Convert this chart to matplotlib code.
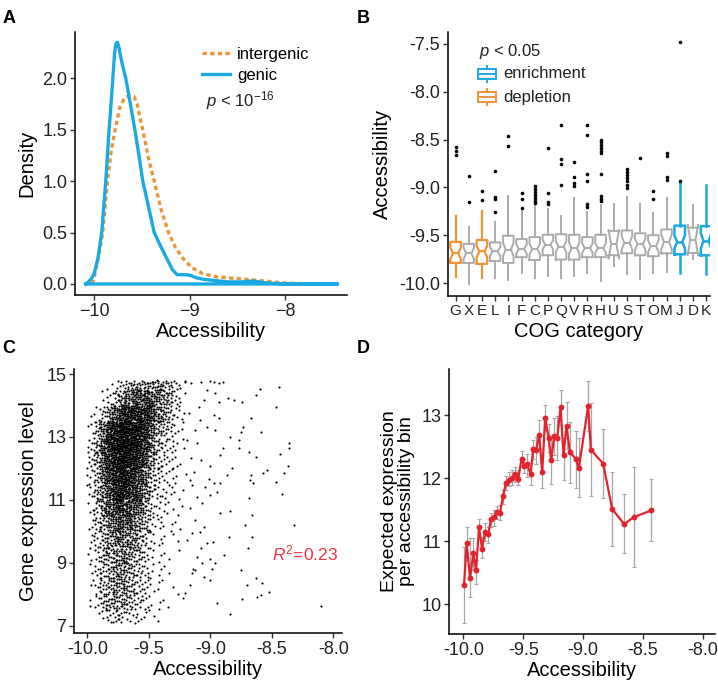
import numpy as np
import matplotlib
matplotlib.use('Agg')
from matplotlib import pyplot as plt
from matplotlib.patches import Rectangle
from matplotlib.lines import Line2D

plt.rcParams['font.family'] = ['Liberation Sans', 'DejaVu Sans']
plt.rcParams['mathtext.fontset'] = 'custom'
plt.rcParams['mathtext.rm'] = 'Liberation Sans'
plt.rcParams['mathtext.it'] = 'Liberation Sans:italic'

BLUE = '#1ba9e1'
ORANGE = '#ec9537'
GRAY = '#ababab'
RED = '#e2232c'

# --- A: density of accessibility
genic_x = [-10.087, -10.06, -10.03, -10.0, -9.96, -9.92, -9.878, -9.843, -9.815, -9.80,
           -9.785, -9.77, -9.755, -9.74, -9.72, -9.695, -9.668, -9.62, -9.573, -9.53,
           -9.49, -9.43, -9.37, -9.31, -9.24, -9.18, -9.13, -9.09, -9.03, -8.98,
           -8.93, -8.85, -8.75, -8.6, -8.45, -8.33, -8.25, -8.12, -7.95, -7.45]
genic_y = [0, 0.02, 0.05, 0.10, 0.25, 0.5, 1.0, 1.5, 1.85, 2.05,
           2.25, 2.34, 2.35, 2.30, 2.2, 2.1, 2.0, 1.75, 1.5, 1.25,
           1.0, 0.75, 0.5, 0.38, 0.25, 0.14, 0.09, 0.09, 0.09, 0.08,
           0.06, 0.045, 0.035, 0.02, 0.02, 0.03, 0.015, 0.006, 0.0, 0.0]
inter_x = [-10.02, -9.99, -9.95, -9.91, -9.86, -9.82, -9.78, -9.73, -9.68, -9.63,
           -9.58, -9.55, -9.52, -9.49, -9.43, -9.37, -9.30, -9.22, -9.15, -9.07,
           -8.98, -8.86, -8.72, -8.6, -8.47, -8.35, -8.23, -8.02, -7.8, -7.45]
inter_y = [0, 0.1, 0.28, 0.5, 1.0, 1.3, 1.5, 1.72, 1.81, 1.83,
           1.82, 1.75, 1.62, 1.5, 1.22, 1.0, 0.73, 0.5, 0.36, 0.25,
           0.16, 0.1, 0.07, 0.06, 0.05, 0.04, 0.03, 0.01, 0.003, 0.0]

# --- B: accessibility per COG category
cog = ['G', 'X', 'E', 'L', 'I', 'F', 'C', 'P', 'Q', 'V',
       'R', 'H', 'U', 'S', 'T', 'O', 'M', 'J', 'D', 'K']
cog_whislo = [-9.94, -10.01, -9.95, -9.95, -9.97, -9.90, -9.95, -9.93, -9.95, -9.93,
              -9.895, -9.98, -9.825, -9.91, -9.955, -9.90, -9.885, -9.895, -9.745, -9.91]
cog_q1 = [-9.79, -9.79, -9.80, -9.77, -9.79, -9.73, -9.76, -9.71, -9.755, -9.755,
          -9.73, -9.73, -9.71, -9.69, -9.71, -9.72, -9.69, -9.70, -9.685, -9.71]
cog_med = [-9.69, -9.69, -9.67, -9.67, -9.65, -9.645, -9.645, -9.60, -9.62, -9.635,
           -9.635, -9.635, -9.595, -9.58, -9.595, -9.615, -9.57, -9.57, -9.55, -9.56]
cog_q3 = [-9.57, -9.59, -9.55, -9.575, -9.505, -9.54, -9.52, -9.495, -9.49, -9.495,
          -9.52, -9.495, -9.455, -9.45, -9.48, -9.50, -9.44, -9.40, -9.42, -9.405]
cog_whishi = [-9.30, -9.41, -9.25, -9.36, -9.09, -9.25, -9.17, -9.23, -9.30, -9.11,
              -9.26, -9.18, -9.175, -9.10, -9.175, -9.265, -9.11, -8.95, -9.185, -8.975]
cog_notch = [0.06, 0.06, 0.06, 0.05, 0.07, 0.05, 0.06, 0.05, 0.06, 0.06,
             0.05, 0.05, 0.15, 0.07, 0.06, 0.06, 0.08, 0.07, 0.16, 0.08]
cog_fliers = [[-8.58, -8.62, -8.66], [-8.88, -9.15], [-9.04, -9.13],
              [-8.83, -9.10, -9.12, -9.26], [-8.46, -8.57], [-9.06, -9.12, -9.22],
              [-8.99, -9.02, -9.05, -9.08, -9.11, -9.14, -9.16],
              [-8.59, -9.06, -9.15, -9.17], [-8.35, -8.70, -8.76, -8.98],
              [-8.735, -8.89, -8.955, -8.99],
              [-8.345, -8.45, -8.86, -8.93, -9.17, -9.21],
              [-8.505, -8.53, -8.56, -8.59, -8.62, -8.645, -8.86, -9.09, -9.12, -9.14],
              [], [-8.81, -8.84, -8.87, -8.90, -8.93, -8.97, -9.01], [-8.69],
              [-9.035, -9.125], [-8.645, -8.675, -8.89, -8.925], [-7.48, -8.935],
              [], []]
cog_depleted = ['G', 'E']
cog_enriched = ['J', 'K']

# --- C: expression vs accessibility (dense core as counts per cell)
core_x_left = [-10.0, -9.95, -9.9, -9.85, -9.8, -9.75, -9.7, -9.65,
               -9.6, -9.55, -9.5, -9.45, -9.4, -9.35, -9.3, -9.25]
core_y_low = [14.5, 14.0, 13.5, 13.0, 12.5, 12.0, 11.5, 11.0,
              10.5, 10.0, 9.5, 9.0, 8.5, 8.0, 7.5, 7.1]
core_y_high = [14.8, 14.5, 14.0, 13.5, 13.0, 12.5, 12.0, 11.5,
               11.0, 10.5, 10.0, 9.5, 9.0, 8.5, 8.0, 7.5]
core_counts = [
    [0, 0, 0, 1, 2, 4, 6, 8, 9, 9, 9, 9, 7, 6, 4, 2],
    [0, 0, 2, 4, 8, 14, 20, 24, 26, 26, 24, 20, 15, 10, 5, 2],
    [1, 3, 8, 14, 25, 35, 40, 40, 40, 36, 28, 20, 14, 9, 5, 2],
    [3, 9, 20, 33, 44, 50, 50, 48, 44, 36, 22, 13, 9, 6, 3, 2],
    [5, 12, 26, 38, 48, 52, 52, 48, 42, 32, 18, 10, 7, 4, 3, 2],
    [5, 12, 23, 35, 45, 50, 48, 43, 37, 27, 13, 8, 5, 3, 2, 1],
    [4, 10, 20, 32, 42, 45, 42, 37, 29, 19, 10, 6, 4, 3, 2, 1],
    [4, 10, 18, 29, 38, 42, 38, 33, 26, 17, 8, 6, 4, 3, 2, 1],
    [3, 8, 15, 24, 31, 33, 31, 26, 21, 12, 6, 4, 3, 2, 1, 1],
    [3, 7, 12, 18, 24, 26, 24, 20, 15, 10, 5, 3, 2, 2, 1, 1],
    [2, 6, 10, 15, 18, 20, 18, 15, 11, 7, 4, 2, 2, 1, 1, 0],
    [2, 5, 10, 13, 16, 16, 15, 12, 10, 6, 3, 2, 1, 1, 1, 0],
    [2, 5, 8, 12, 15, 15, 13, 11, 8, 5, 3, 2, 1, 1, 0, 0],
    [1, 4, 8, 12, 15, 15, 12, 10, 7, 5, 2, 2, 1, 1, 1, 0],
    [1, 4, 8, 12, 15, 13, 11, 8, 6, 4, 2, 2, 1, 1, 0, 0],
    [0, 1, 2, 4, 7, 6, 4, 3, 3, 2, 2, 1, 0, 0, 0, 0],
]
sparse_x = [-9.204, -9.158, -9.08, -9.005, -8.973, -8.93, -8.897, -9.027, -8.96, -8.93,
            -8.859, -8.81, -8.742, -8.633, -8.598, -8.443, -8.47, -8.668, -8.734, -8.755,
            -8.592, -8.973, -8.93, -9.027, -8.96, -8.837, -8.769, -8.897, -8.769, -8.918,
            -8.688, -8.633, -8.361, -8.361, -8.435, -8.367, -8.402, -8.538, -8.573, -8.668,
            -8.674, -8.823, -9.0, -9.076, -9.014, -8.973, -8.864, -8.918, -8.946, -9.005,
            -8.416, -8.467, -8.688, -8.652, -8.837, -8.918, -8.66, -8.715, -9.054, -9.081,
            -8.978, -9.027, -9.076, -9.0, -8.886, -9.068, -8.851, -8.696, -8.755, -9.141,
            -9.054, -9.0, -8.633, -8.579, -8.701, -8.592, -8.62, -8.524, -8.742, -8.946,
            -8.837, -8.103, -8.321, -8.66, -8.96, -8.987, -9.122, -9.204, -9.223, -9.168,
            -9.149, -9.109, -9.149, -9.122, -9.163, -9.109, -9.149, -9.136, -9.158, -9.109,
            -9.122, -9.081, -9.095, -9.054, -9.177, -9.19, -9.168, -9.19, -9.068, -9.041,
            -9.98, -9.97, -9.97]
sparse_y = [14.79, 14.70, 14.76, 14.79, 14.76, 14.70, 14.74, 14.49, 14.39, 14.12,
            14.23, 14.17, 14.12, 14.33, 14.54, 14.58, 13.96, 13.59, 13.33, 13.17,
            13.17, 13.70, 13.59, 13.33, 13.22, 13.01, 12.90, 12.64, 12.64, 12.43,
            12.53, 12.37, 12.80, 12.64, 12.46, 12.08, 11.86, 11.95, 11.84, 11.79,
            11.63, 12.0, 12.08, 12.27, 11.68, 11.53, 11.79, 11.53, 11.26, 11.15,
            11.19, 11.58, 11.05, 11.53, 10.66, 10.57, 10.52, 10.20, 10.15, 9.99,
            9.67, 9.62, 9.46, 9.11, 9.25, 9.00, 9.83, 9.46, 8.77, 8.79,
            8.54, 8.45, 8.51, 8.37, 8.29, 7.98, 7.92, 8.08, 7.84, 7.73,
            7.37, 7.63, 10.20, 9.83, 8.98, 8.79, 8.77, 8.03, 7.87, 8.29,
            8.67, 9.2, 9.94, 10.36, 10.73, 11.10, 11.47, 11.90, 12.32, 12.80,
            13.22, 13.54, 13.96, 14.17, 13.75, 12.90, 11.63, 9.72, 10.89, 11.42,
            7.62, 9.1, 8.3]

# --- D: binned expression
bin_x = [-9.994, -9.972, -9.944, -9.917, -9.894, -9.869, -9.844, -9.819, -9.792, -9.769,
         -9.744, -9.719, -9.694, -9.669, -9.644, -9.619, -9.594, -9.567, -9.542, -9.514,
         -9.492, -9.467, -9.439, -9.417, -9.392, -9.367, -9.342, -9.317, -9.289, -9.267,
         -9.242, -9.217, -9.189, -9.164, -9.139, -9.111, -9.061, -9.036, -8.958, -8.936,
         -8.833, -8.758, -8.658, -8.58, -8.43]
bin_mean = [10.31, 10.97, 10.41, 10.81, 10.54, 11.22, 10.88, 11.15, 11.11, 11.35,
            11.38, 11.47, 11.45, 11.71, 11.93, 11.97, 12.01, 12.06, 11.99, 12.31,
            12.20, 12.22, 12.06, 12.46, 12.45, 12.69, 12.09, 12.96, 12.64, 12.28,
            12.67, 12.63, 13.12, 12.37, 12.83, 12.42, 12.30, 12.16, 13.15, 12.45,
            12.23, 11.51, 11.27, 11.38, 11.49]
bin_hi = [10.91, 11.23, 11.05, 11.05, 10.70, 11.36, 11.07, 11.29, 11.23, 11.45,
          11.49, 11.56, 11.57, 11.82, 12.04, 12.09, 12.13, 12.18, 12.13, 12.43,
          12.31, 12.39, 12.24, 12.60, 12.66, 12.92, 12.37, 13.16, 12.86, 12.63,
          12.96, 12.98, 13.40, 12.63, 13.20, 12.89, 12.74, 12.64, 13.54, 13.19,
          12.78, 12.09, 11.75, 12.17, 11.99]
bin_lo = [9.70, 10.70, 10.12, 10.54, 10.33, 11.07, 10.73, 11.01, 10.97, 11.23,
          11.24, 11.36, 11.33, 11.59, 11.82, 11.87, 11.89, 11.94, 11.89, 12.18,
          12.08, 12.02, 11.89, 12.31, 12.23, 12.47, 11.85, 12.74, 12.41, 11.91,
          12.37, 12.28, 12.84, 11.97, 12.47, 11.93, 11.85, 11.70, 12.75, 11.72,
          11.68, 10.92, 10.81, 10.59, 11.00]

TICK_FS = 13
LABEL_FS = 14.5
TXT = '#222222'


def style(ax):
    for s in ['top', 'right']:
        ax.spines[s].set_visible(False)
    for s in ['left', 'bottom']:
        ax.spines[s].set_linewidth(1.1)
        ax.spines[s].set_color('black')
    ax.tick_params(direction='out', length=3.5, width=1, colors='#333333',
                   labelsize=TICK_FS, labelcolor=TXT, pad=2)


fig = plt.figure(figsize=(7.18, 6.90), dpi=100)

# ---------- A
axA = fig.add_axes([0.1045, 0.5725, 0.3788, 0.3811])
axA.plot(inter_x, inter_y, color=ORANGE, lw=2.4, ls=(0, (1.3, 1.0)))
axA.plot(genic_x + [genic_x[0]], genic_y + [genic_y[0]], color=BLUE, lw=2.4)
axA.set_xlim(-10.2, -7.35)
axA.set_ylim(-0.107, 2.45)
axA.set_xticks([-10, -9, -8])
axA.set_yticks([0, 0.5, 1.0, 1.5, 2.0])
axA.set_yticklabels(['0.0', '0.5', '1.0', '1.5', '2.0'])
style(axA)
axA.set_xlabel('Accessibility', fontsize=LABEL_FS, labelpad=2)
axA.set_ylabel('Density', fontsize=LABEL_FS, labelpad=4)
hA = [Line2D([], [], color=ORANGE, lw=2.4, ls=(0, (1.3, 1.0))),
      Line2D([], [], color=BLUE, lw=2.4)]
axA.legend(hA, ['intergenic', 'genic'], loc='upper left', bbox_to_anchor=(0.455, 0.955),
           frameon=False, fontsize=12, handlelength=1.7, handletextpad=0.4,
           labelspacing=0.35, borderpad=0.2, borderaxespad=0)
axA.text(0.48, 0.74, r'$p$ < 10$^{-16}$', transform=axA.transAxes, fontsize=12,
         color=TXT, va='center')

# ---------- B
axB = fig.add_axes([0.6235, 0.571, 0.3654, 0.3826])
pos = np.arange(1, len(cog) + 1)
for i, c in enumerate(cog):
    if c in cog_depleted:
        col, lw = ORANGE, 1.6
    elif c in cog_enriched:
        col, lw = BLUE, 1.8
    else:
        col, lw = GRAY, 1.4
    st = dict(med=cog_med[i], q1=cog_q1[i], q3=cog_q3[i],
              whislo=cog_whislo[i], whishi=cog_whishi[i], fliers=cog_fliers[i],
              cilo=cog_med[i] - cog_notch[i], cihi=cog_med[i] + cog_notch[i])
    axB.bxp([st], positions=[pos[i]], widths=0.8, shownotches=True, showcaps=False,
            boxprops=dict(color=col, lw=lw),
            whiskerprops=dict(color=col, lw=lw),
            medianprops=dict(color=col, lw=lw),
            flierprops=dict(marker='o', markersize=2.6, markerfacecolor='black',
                            markeredgecolor='none'))
axB.set_xlim(0.4, 20.3)
axB.set_ylim(-10.136, -7.375)
axB.set_yticks([-10.0, -9.5, -9.0, -8.5, -8.0, -7.5])
axB.set_yticklabels(['-10.0', '-9.5', '-9.0', '-8.5', '-8.0', '-7.5'])
axB.set_xticks(pos)
axB.set_xticklabels(cog)
style(axB)
axB.tick_params(axis='x', labelsize=11)
axB.set_xlabel('COG category', fontsize=LABEL_FS, labelpad=3)
axB.set_ylabel('Accessibility', fontsize=LABEL_FS, labelpad=5)
axB.text(0.12, 0.925, r'$p$ < 0.05', transform=axB.transAxes, fontsize=12,
         color=TXT, va='center')
for yc, col, lab in [(0.841, BLUE, 'enrichment'), (0.753, ORANGE, 'depletion')]:
    axB.add_patch(Rectangle((0.116, yc - 0.019), 0.068, 0.038, transform=axB.transAxes,
                            fill=False, edgecolor=col, lw=1.4))
    axB.add_line(Line2D([0.116, 0.184], [yc, yc], transform=axB.transAxes, color=col, lw=1.4))
    axB.add_line(Line2D([0.15, 0.15], [yc + 0.019, yc + 0.031], transform=axB.transAxes,
                        color=col, lw=1.4))
    axB.add_line(Line2D([0.15, 0.15], [yc - 0.019, yc - 0.031], transform=axB.transAxes,
                        color=col, lw=1.4))
    axB.text(0.212, yc, lab, transform=axB.transAxes, fontsize=12, color=TXT, va='center')

# ---------- C
cx, cy = [], []
k = 0
for r, ylo in enumerate(core_y_low):
    h = core_y_high[r] - ylo
    for j, xl in enumerate(core_x_left):
        for m in range(core_counts[r][j]):
            k += 1
            cx.append(xl + 0.05 * ((0.5 + k * 0.7548777) % 1.0))
            cy.append(ylo + h * ((0.5 + k * 0.5698403) % 1.0))
axC = fig.add_axes([0.1031, 0.0826, 0.3733, 0.3826])
axC.scatter(cx + sparse_x, cy + sparse_y, s=2.3, color='black', linewidths=0)
axC.set_xlim(-10.108, -7.93)
axC.set_ylim(6.77, 15.16)
axC.set_xticks([-10.0, -9.5, -9.0, -8.5, -8.0])
axC.set_xticklabels(['-10.0', '-9.5', '-9.0', '-8.5', '-8.0'])
axC.set_yticks([7, 9, 11, 13, 15])
style(axC)
axC.set_xlabel('Accessibility', fontsize=LABEL_FS, labelpad=2)
axC.set_ylabel('Gene expression level', fontsize=LABEL_FS, labelpad=6)
axC.text(0.74, 0.303, r'$R^2$=0.23', transform=axC.transAxes, fontsize=12.5,
         color='#e8363f', va='center')

# ---------- D
axD = fig.add_axes([0.6258, 0.0812, 0.37, 0.3840])
yerr = [np.array(bin_mean) - np.array(bin_lo), np.array(bin_hi) - np.array(bin_mean)]
axD.errorbar(bin_x, bin_mean, yerr=yerr, fmt='none', ecolor='#a6a6a6',
             elinewidth=0.9, capsize=1.3, capthick=0.8)
axD.plot(bin_x, bin_mean, color=RED, lw=1.6, marker='o', ms=3.2)
axD.set_xlim(-10.117, -7.9)
axD.set_ylim(9.53, 13.73)
axD.set_xticks([-10.0, -9.5, -9.0, -8.5, -8.0])
axD.set_xticklabels(['-10.0', '-9.5', '-9.0', '-8.5', '-8.0'])
axD.set_yticks([10, 11, 12, 13])
style(axD)
axD.set_xlabel('Accessibility', fontsize=LABEL_FS, labelpad=2)
axD.set_ylabel('Expected expression\nper accessibility bin', fontsize=14,
               labelpad=5, linespacing=1.0)

# panel letters
for x, y, t in [(0.003, 0.985, 'A'), (0.497, 0.985, 'B'),
                (0.003, 0.507, 'C'), (0.497, 0.507, 'D')]:
    fig.text(x, y, t, fontsize=13, fontweight='bold', va='top', ha='left')

fig.savefig('out.png', dpi=100)
